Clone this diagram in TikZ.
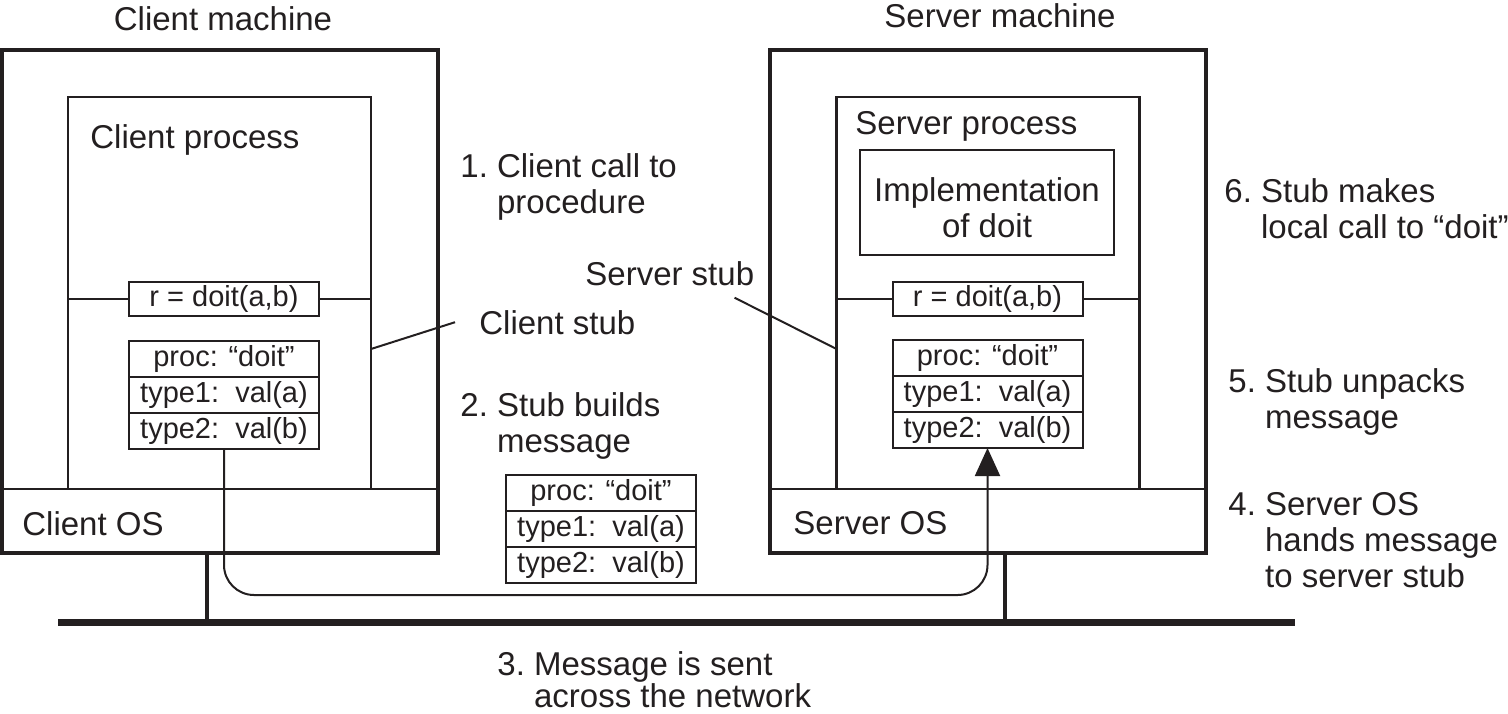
\documentclass[tikz,border=0pt]{standalone}
\usepackage{fontspec}
\setmainfont{Liberation Sans}
\usepackage{tikz}
\usetikzlibrary{positioning, arrows.meta}
\definecolor{ink}{RGB}{35,31,32}
\newcommand{\mainsize}{\fontsize{16.5}{18}\selectfont}
\newcommand{\cellsize}{\fontsize{14.5}{16}\selectfont}

\begin{document}
\begin{tikzpicture}[x=0.5pt, y=-0.5pt, color=ink,
    machine/.style={draw, line width=2pt, minimum width=218pt, minimum height=251.5pt, outer sep=0pt},
    process/.style={draw, line width=1.1pt, minimum width=151.5pt, minimum height=196pt, outer sep=0pt},
    callbox/.style={draw, line width=1pt, minimum width=95pt, minimum height=17pt, inner sep=0pt, outer sep=0pt,
      font=\cellsize, text height=11pt, text depth=3.5pt},
    msgrow/.style={callbox, minimum height=18pt},
    txt/.style={inner sep=0pt, anchor=base west, font=\mainsize},
    wire/.style={line width=1pt},
    tap/.style={line width=2pt}]
    \useasboundingbox (0,0) rectangle (1508,713);

    % client machine
    \node[machine] (cm) at (220,301.5) {};
    \node[txt, anchor=base] (cmt) at (223,30) {Client machine};
    \node[process] (cp) at (219.5,293) {};
    \node[txt] (cpt) at (90,148) {Client process};
    \node[txt] (cos) at (22,535) {Client OS};
    \draw[line width=1.1pt] (cm.west |- cp.south) -- (cm.east |- cp.south);
    \node[callbox] (ccall) at (224,299) {r = doit(a,b)};
    \draw[wire] (cp.west |- ccall) -- (ccall.west);
    \draw[wire] (ccall.east) -- (cp.east |- ccall);
    \node[msgrow] (cmsg1) at (224,359) {proc: “doit”};
    \node[msgrow, below=0pt of cmsg1] (cmsg2) {type1:\ \ val(a)};
    \node[msgrow, below=0pt of cmsg2] (cmsg3) {type2:\ \ val(b)};
    \node[txt] (cstub) at (479,334) {Client stub};
    \draw[wire] (cp.east |- 0,349) -- ([xshift=-12pt]cstub.west);

    % server machine
    \node[machine] (sm) at (988,301.5) {};
    \node[txt, anchor=base] (smt) at (1000,27) {Server machine};
    \node[process] (sp) at (988,293) {};
    \node[txt] (spt) at (855,134) {Server process};
    \node[txt] (sos) at (793,534) {Server OS};
    \draw[line width=1.1pt] (sm.west |- sp.south) -- (sm.east |- sp.south);
    \node[draw, line width=1pt, minimum width=127pt, minimum height=52.5pt, align=center, font=\mainsize,
      text height=35pt, text depth=0pt] (impl) at (987,202.5) {Implementation\\of doit};
    \node[callbox] (scall) at (987.5,299) {r = doit(a,b)};
    \draw[wire] (sp.west |- scall) -- (scall.west);
    \draw[wire] (scall.east) -- (sp.east |- scall);
    \node[msgrow] (smsg1) at (987.5,358) {proc: “doit”};
    \node[msgrow, below=0pt of smsg1] (smsg2) {type1:\ \ val(a)};
    \node[msgrow, below=0pt of smsg2] (smsg3) {type2:\ \ val(b)};
    \node[txt] (sstub) at (585,285) {Server stub};
    \draw[wire] ([xshift=-10pt,yshift=-6pt]sstub.south east) -- (sp.west |- 0,349);

    % message on its way
    \node[msgrow] (mmsg1) at (601,493) {proc: “doit”};
    \node[msgrow, below=0pt of mmsg1] (mmsg2) {type1:\ \ val(a)};
    \node[msgrow, below=0pt of mmsg2] (mmsg3) {type2:\ \ val(b)};

    % network
    \coordinate (netl) at (58,622);
    \coordinate (netr) at (1295,622);
    \coordinate (ctap) at (207,622);
    \coordinate (stap) at (1005,622);
    \coordinate (wy) at (0,595);
    \draw[line width=3.5pt] (netl) -- (netr);
    \draw[tap] (cm.south -| ctap) -- (ctap);
    \draw[tap] (sm.south -| stap) -- (stap);
    \draw[wire, rounded corners=15pt, -{Triangle[length=14pt, width=12.5pt]}] (cmsg3.south) |- (wy -| smsg3.south) -- (smsg3.south);

    % steps
    \node[txt] (n1) at (460,177) {\begin{tabular}[t]{@{}l@{\ }l@{}}1. & Client call to\\ & procedure\end{tabular}};
    \node[txt] (n2) at (460,416) {\begin{tabular}[t]{@{}l@{\ }l@{}}2. & Stub builds\\ & message\end{tabular}};
    \node[txt] (n3) at (497,675) {\begin{tabular}[t]{@{}l@{\ }l@{}}3. & Message is sent\\[-2pt] & across the network\end{tabular}};
    \node[txt] (n4) at (1228,515) {\begin{tabular}[t]{@{}l@{\ }l@{}}4. & Server OS\\ & hands message\\ & to server stub\end{tabular}};
    \node[txt] (n5) at (1228,392) {\begin{tabular}[t]{@{}l@{\ }l@{}}5. & Stub unpacks\\ & message\end{tabular}};
    \node[txt] (n6) at (1224,202) {\begin{tabular}[t]{@{}l@{\ }l@{}}6. & Stub makes\\ & local call to “doit”\end{tabular}};
\end{tikzpicture}
\end{document}
